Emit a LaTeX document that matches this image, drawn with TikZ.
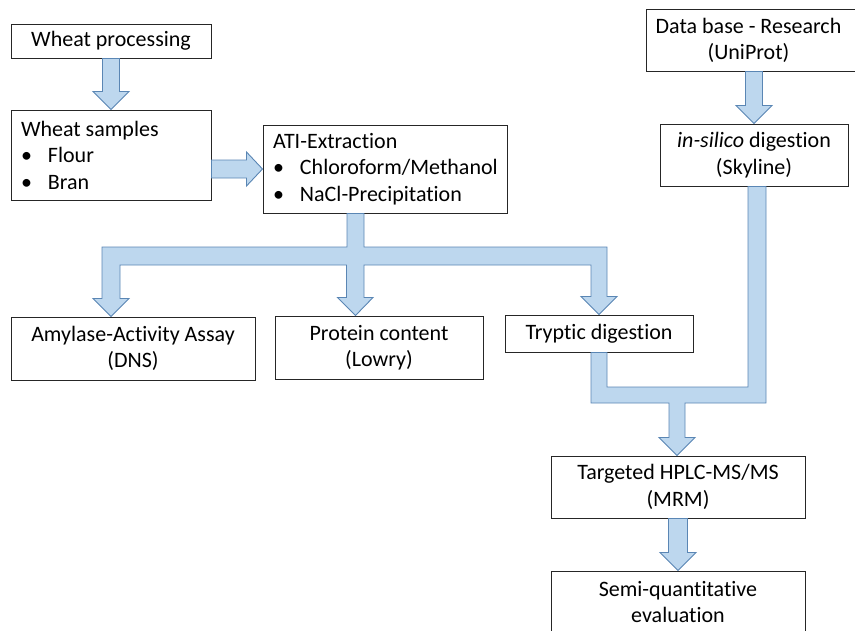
\documentclass[tikz,border=0pt]{standalone}
\usepackage{fontspec}
\setmainfont{Carlito}[Ligatures=NoCommon]
\usetikzlibrary{calc, positioning}
\definecolor{arrfill}{HTML}{BDD7EE}
\definecolor{arrline}{HTML}{5A86B4}
\tikzset{
  every picture/.style={line join=miter},
  boxline/.style={draw=black!85, line width=1pt},
  box/.style={boxline, fill=white, inner xsep=4pt, inner ysep=2pt,
    font=\fontsize{22}{26.5}\selectfont, align=flush center},
  listbox/.style={box, align=flush left, inner xsep=10pt},
  blk/.style={fill=arrfill, draw=arrline, line width=0.9pt},
}
% bullet item inside a list box
\newcommand\bl[1]{\makebox[27pt][l]{\textbullet}#1}
% block arrows: start, tip, half shaft width
\newcommand\vblock[3]{%
  \path[blk] ($(#1)+(-#3,0)$) -- ($(#1)+(#3,0)$) -- ($(#2)+(#3,-18)$) -- ($(#2)+(18,-18)$)
    -- (#2) -- ($(#2)+(-18,-18)$) -- ($(#2)+(-#3,-18)$) -- cycle;}
\newcommand\hblock[3]{%
  \path[blk] ($(#1)+(0,-#3)$) -- ($(#2)+(-16,-#3)$) -- ($(#2)+(-16,-17)$)
    -- (#2) -- ($(#2)+(-16,17)$) -- ($(#2)+(-16,#3)$) -- ($(#1)+(0,#3)$) -- cycle;}

\begin{document}
\begin{tikzpicture}[x=1pt, y=-1pt]
  \useasboundingbox (0,0) rectangle (855,630);
  \clip (0,0) rectangle (855,630);

  % left column
  \node[box, minimum width=200pt, minimum height=34pt] (wp) at (111,41) {Wheat processing};
  \node[listbox, text width=180pt, minimum height=90pt] (ws) at (111,155)
    {Wheat samples\\\bl{Flour}\\\bl{Bran}};
  \node[listbox, text width=224pt, minimum height=88pt] (ati) at (385,169)
    {ATI-Extraction\\\bl{Chloroform/Methanol}\\\bl{NaCl-Precipitation}};

  % analyses
  \node[box, minimum width=244pt, minimum height=63pt] (amy) at (133,348.5)
    {Amylase-Activity Assay\\(DNS)};
  \node[box, minimum width=208pt, minimum height=63pt] (prot) at (379,347.5)
    {Protein content\\(Lowry)};
  \node[box, minimum width=188pt, minimum height=37pt] (tryp) at (599,333.5) {Tryptic digestion};

  % database branch (box runs off the right edge)
  \node[box, draw=none, fill=none, anchor=west, text width=204pt, inner xsep=0pt,
    minimum height=61pt] (db) at (646,40.5) {Data base - Research\\(UniProt)};
  \draw[boxline] (db.south west) rectangle ($(db.north east)+(30,0)$);
  \node[box, minimum width=188pt, minimum height=62pt] (insil) at (754,155)
    {\textit{in-silico} digestion\\(Skyline)};

  % measurement
  \node[box, minimum width=254pt, minimum height=62pt] (tgt) at (678,487)
    {Targeted HPLC-MS/MS\\(MRM)};
  \node[box, minimum width=254pt, minimum height=62pt] (semi) at (678,602)
    {Semi-quantitative\\evaluation};

  % simple block arrows
  \vblock{wp.south}{ws.north}{8.5}
  \hblock{ws.east |- ati.west}{ati.west}{9}
  \vblock{db.south -| insil.north}{insil.north}{8.5}
  \vblock{tgt.south}{semi.north}{9.5}

  % split below the extraction
  \coordinate (dropL) at (111,256);
  \coordinate (dropM) at (355.5,256);
  \coordinate (dropR) at (599,256);
  \path[blk] ($(ati.south -| dropM)+(-8.5,0)$) -- ++(17,0) |- ($(dropR)+(8,-9)$)
    -- ($(dropR |- tryp.north)+(8,-18)$) -- ++(10,0) -- (dropR |- tryp.north)
    -- ++(-18,-18) -- ++(10,0) |- ($(dropM)+(8.5,9)$)
    -- ($(dropM |- prot.north)+(8.5,-18)$) -- ++(9,0) -- (dropM |- prot.north)
    -- ++(-18,-18) -- ++(9,0) |- ($(dropL)+(9,9)$)
    -- ($(dropL |- amy.north)+(9,-18)$) -- ++(9,0) -- (dropL |- amy.north)
    -- ++(-18,-18) -- ++(9,0) |- ($(dropM)+(-8.5,-9)$) -- cycle;

  % merge into the HPLC step
  \coordinate (merge) at (677,395);
  \coordinate (mergeR) at (757,395);
  \path[blk] ($(tryp.south)+(-8,0)$) -- ++(16,0) |- ($(mergeR)+(-9,-8)$)
    -- ($(mergeR |- insil.south)+(-9,0)$) -- ++(18,0) |- ($(merge)+(8,8)$)
    -- ($(merge |- tgt.north)+(8,-18)$) -- ++(10,0) -- (merge |- tgt.north)
    -- ++(-18,-18) -- ++(10,0) -- ($(merge)+(-8,8)$)
    -- ($(tryp.south |- merge)+(-8,8)$) -- cycle;
\end{tikzpicture}
\end{document}
